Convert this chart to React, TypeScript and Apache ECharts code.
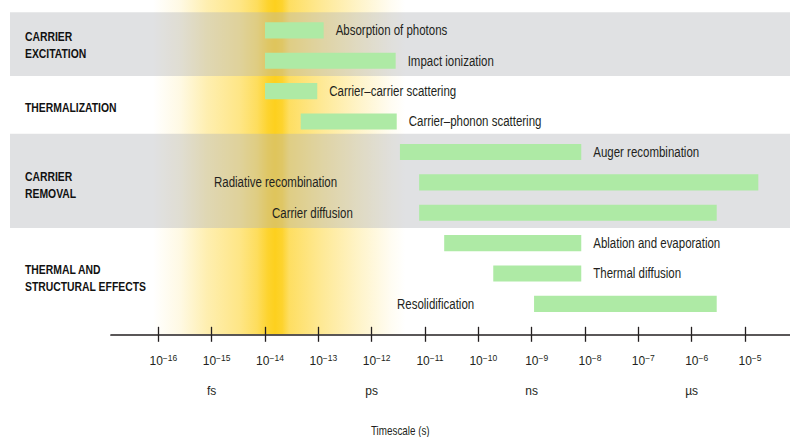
import React, { useEffect, useRef } from "react";
import * as echarts from "echarts";

// ---------- data ----------
const processes = [
  "Absorption of photons",
  "Impact ionization",
  "Carrier–carrier scattering",
  "Carrier–phonon scattering",
  "Auger recombination",
  "Radiative recombination",
  "Carrier diffusion",
  "Ablation and evaporation",
  "Thermal diffusion",
  "Resolidification",
];
// log10 of time in seconds
const startExp = [-14.0, -14.0, -14.0, -13.33, -11.47, -11.11, -11.11, -10.64, -9.72, -8.955];
const endExp = [-12.9, -11.55, -13.02, -11.53, -8.07, -4.75, -5.53, -8.07, -8.07, -5.53];
const rowIndex = [0, 1, 2, 3, 4, 5, 6, 7, 8, 9];

const groupLabels = ["CARRIER\nEXCITATION", "THERMALIZATION", "CARRIER\nREMOVAL", "THERMAL AND\nSTRUCTURAL EFFECTS"];
const groupFirstRow = [0, 2, 4, 7];
const groupLastRow = [1, 3, 6, 9];
const groupShaded = [true, false, true, false];

const tickExponents = [-16, -15, -14, -13, -12, -11, -10, -9, -8, -7, -6, -5];
const unitExponents = [-15, -12, -9, -6];
const unitLabels = ["fs", "ps", "ns", "µs"];
const axisTitle = "Timescale (s)";
const laserWindow = [-16.1, -11.37];

// ---------- style ----------
const FONT = '"Liberation Sans", Arial, sans-serif';
const NARROW = 0.82;
const TEXT = "#231f20";
const GREEN = "#aeeaa5";
const BAND = "rgba(178,180,185,0.4)";
const X_MIN = -16.8875;
const X_MAX = -4.156;
const Y_MIN = -1;
const Y_MAX = 10;
const GRID_LEFT = 111;
const GRID_TOP = 0;
const GRID_H = 334.3;
const BAND_LEFT_PX = 10;
const labelLeftPx: Record<string, number> = {
  "Radiative recombination": 214,
  "Carrier diffusion": 272,
  "Resolidification": 397,
};
const headingY = [45.3, 108, 185, 278.3];
const gradStops: [number, number][] = [
  [0, 0], [0.107, 0.12], [0.214, 0.35], [0.345, 0.54], [0.413, 0.72], [0.456, 0.93],
  [0.484, 1], [0.512, 0.93], [0.54, 0.7], [0.675, 0.46], [0.81, 0.25], [0.94, 0.06], [1, 0],
];

export default function App() {
  const ref = useRef<HTMLDivElement>(null);
  useEffect(() => {
    if (!ref.current) return;
    const chart = echarts.init(ref.current, undefined, { renderer: "svg" });

    const barData = processes.map((_, i) => [startExp[i], endExp[i], rowIndex[i]]);
    const bandData = groupFirstRow
      .map((f, i) => (groupShaded[i] ? [f, groupLastRow[i]] : null))
      .filter((d) => d !== null) as number[][];

    const unitFor = (v: number) => {
      const k = unitExponents.indexOf(Math.round(v));
      return k >= 0 ? unitLabels[k] : "";
    };

    const gridCommon = { left: GRID_LEFT, right: 0, top: GRID_TOP, height: GRID_H, containLabel: false };

    const option: any = {
      animation: false,
      backgroundColor: "#ffffff",
      grid: [gridCommon, { ...gridCommon }],
      xAxis: [
        {
          type: "value",
          gridIndex: 0,
          min: X_MIN,
          max: X_MAX,
          position: "bottom",
          z: 10,
          splitLine: { show: false },
          axisLine: { show: true, onZero: false, lineStyle: { color: TEXT, width: 1.7 } },
          axisTick: {
            show: true,
            customValues: tickExponents,
            length: 7.5,
            inside: false,
            lineStyle: { color: TEXT, width: 1.3 },
          },
          axisLabel: {
            show: true,
            customValues: tickExponents,
            margin: 19.5,
            formatter: (v: number) => {
              const e = Math.round(v);
              const u = unitFor(e);
              const main = `{b|10}{s|−${-e}}`;
              return u ? `${main}\n{u|${u}}` : main;
            },
            rich: {
              b: { fontFamily: FONT, fontSize: 12, color: TEXT, lineHeight: 15, padding: [0, 0, 0, 10] },
              s: { fontFamily: FONT, fontSize: 8.5, color: TEXT, lineHeight: 9, verticalAlign: "top" },
              u: { fontFamily: FONT, fontSize: 12, color: TEXT, lineHeight: 44 },
            },
          },
        },
        {
          type: "value",
          gridIndex: 1,
          min: X_MIN,
          max: X_MAX,
          position: "bottom",
          z: 10,
          splitLine: { show: false },
          axisLine: { show: false, onZero: false },
          axisTick: {
            show: true,
            customValues: tickExponents,
            length: 7.5,
            inside: true,
            lineStyle: { color: TEXT, width: 1.3 },
          },
          axisLabel: { show: false },
        },
      ],
      yAxis: [
        { type: "value", gridIndex: 0, inverse: true, min: Y_MIN, max: Y_MAX, show: false },
        { type: "value", gridIndex: 1, inverse: true, min: Y_MIN, max: Y_MAX, show: false },
      ],
      series: [
        {
          type: "custom",
          name: "laser",
          xAxisIndex: 0,
          yAxisIndex: 0,
          z: 1,
          silent: true,
          clip: false,
          data: [[laserWindow[0], laserWindow[1]]],
          encode: { x: [0, 1] },
          renderItem: (params: any, api: any) => {
            const p0 = api.coord([api.value(0), Y_MIN]);
            const p1 = api.coord([api.value(1), Y_MAX]);
            return {
              type: "rect",
              shape: { x: p0[0], y: p0[1], width: p1[0] - p0[0], height: p1[1] - p0[1] },
              style: {
                fill: new echarts.graphic.LinearGradient(
                  0, 0, 1, 0,
                  gradStops.map(([o, a]) => ({ offset: o, color: `rgba(253,208,30,${a})` }))
                ),
              },
            };
          },
        },
        {
          type: "custom",
          name: "bands",
          xAxisIndex: 0,
          yAxisIndex: 0,
          z: 2,
          silent: true,
          clip: false,
          data: bandData,
          encode: { y: [0, 1] },
          renderItem: (params: any, api: any) => {
            const top = api.coord([X_MIN, api.value(0) - 0.6])[1];
            const bottom = api.coord([X_MIN, api.value(1) + 0.5])[1];
            const right = params.coordSys.x + params.coordSys.width;
            return {
              type: "rect",
              shape: { x: BAND_LEFT_PX, y: top, width: right - BAND_LEFT_PX, height: bottom - top },
              style: { fill: BAND },
            };
          },
        },
        {
          type: "custom",
          name: "processes",
          xAxisIndex: 0,
          yAxisIndex: 0,
          z: 3,
          clip: false,
          data: barData,
          encode: { x: [0, 1], y: 2 },
          renderItem: (params: any, api: any) => {
            const r = api.value(2);
            const p0 = api.coord([api.value(0), r]);
            const p1 = api.coord([api.value(1), r]);
            const h = api.size([0, 1])[1] * 0.53;
            const name = processes[params.dataIndex];
            const lx = labelLeftPx[name] !== undefined ? labelLeftPx[name] : p1[0] + 12;
            return {
              type: "group",
              children: [
                {
                  type: "rect",
                  shape: { x: p0[0], y: p0[1] - h / 2, width: p1[0] - p0[0], height: h },
                  style: { fill: GREEN },
                },
                {
                  type: "text",
                  x: lx,
                  y: p0[1],
                  scaleX: NARROW,
                  style: {
                    text: name,
                    x: 0,
                    y: 0,
                    align: "left",
                    verticalAlign: "middle",
                    fill: TEXT,
                    fontSize: 14,
                    fontFamily: FONT,
                  },
                },
              ],
            };
          },
        },
      ],
      graphic: [
        ...groupLabels.map((g, i) => ({
          type: "text",
          x: 25,
          y: headingY[i],
          scaleX: 0.77,
          z: 20,
          style: {
            text: g,
            x: 0,
            y: 0,
            fill: "#111111",
            fontFamily: FONT,
            fontWeight: "bold",
            fontSize: 13.5,
            lineHeight: 17,
            align: "left",
            verticalAlign: "middle",
          },
        })),
        {
          type: "text",
          x: 400.3,
          y: 431,
          scaleX: NARROW,
          z: 20,
          style: {
            text: axisTitle,
            x: 0,
            y: 0,
            fill: TEXT,
            fontFamily: FONT,
            fontSize: 12,
            align: "center",
            verticalAlign: "middle",
          },
        },
      ],
    };

    chart.setOption(option);
    return () => chart.dispose();
  }, []);

  return (
    <div
      ref={ref}
      style={{ position: "absolute", left: 0, top: 0, width: 790, height: 437, background: "#fff" }}
    />
  );
}
